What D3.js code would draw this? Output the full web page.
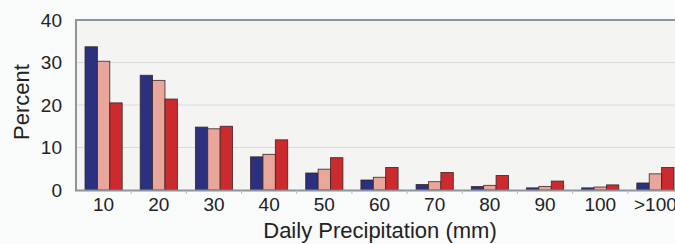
<!DOCTYPE html>
<html>
<head>
  <meta charset="utf-8">
  <style>
    body { margin: 0; background: #f9fafa; }
    svg { display: block; font-family: "Liberation Sans", Arial, sans-serif; }
  </style>
</head>
<body>
  <svg width="675" height="244"></svg>
  <script src="https://d3js.org/d3.v7.min.js"></script>
  <script>
    // data
    var categories = ["10", "20", "30", "40", "50", "60", "70", "80", "90", "100", ">100"];
    var seriesNames = ["a", "b", "c"];
    var seriesA = [33.7, 27.0, 14.8, 7.8, 4.0, 2.35, 1.3, 0.8, 0.5, 0.5, 1.65];
    var seriesB = [30.3, 25.8, 14.4, 8.4, 4.9, 3.0, 1.95, 1.1, 0.85, 0.7, 3.8];
    var seriesC = [20.5, 21.4, 15.0, 11.8, 7.6, 5.3, 4.1, 3.4, 2.1, 1.2, 5.3];
    var yTicks = [0, 10, 20, 30, 40];

    var series = [seriesA, seriesB, seriesC];
    var colors = ["#2b307f", "#e9a69b", "#cb2b2e"];

    var svg = d3.select("svg"),
      mLeft = 76, mRight = 683, mTop = 20, mBottom = 190;

    var x0 = d3.scaleBand().domain(categories).range([mLeft, mRight]).padding(0);
    var x1 = d3.scaleBand().domain(seriesNames).range([9, x0.bandwidth() - 9]).padding(0);
    var y = d3.scaleLinear().domain([0, 40]).range([mBottom, mTop]);

    // plot area
    svg.append("rect")
      .attr("x", mLeft).attr("y", mTop)
      .attr("width", mRight - mLeft).attr("height", mBottom - mTop)
      .attr("fill", "#f4f4f2");

    // gridlines
    svg.append("g")
      .selectAll("line")
      .data(yTicks.slice(1, -1))
      .join("line")
      .attr("x1", mLeft).attr("x2", mRight)
      .attr("y1", y).attr("y2", y)
      .attr("stroke", "#d6dbde")
      .attr("stroke-width", 1);

    // bars
    var groups = svg.append("g")
      .selectAll("g")
      .data(categories)
      .join("g")
      .attr("transform", function (d) { return "translate(" + x0(d) + ",0)"; });

    groups.selectAll("rect")
      .data(function (d, i) { return series.map(function (s, j) { return { key: seriesNames[j], v: s[i], c: colors[j] }; }); })
      .join("rect")
      .attr("x", function (d) { return x1(d.key); })
      .attr("y", function (d) { return y(d.v); })
      .attr("width", x1.bandwidth())
      .attr("height", function (d) { return y(0) - y(d.v); })
      .attr("fill", function (d) { return d.c; })
      .attr("stroke", "#3a2628")
      .attr("stroke-width", 0.8);

    // frame (top and left) and baseline
    svg.append("path")
      .attr("d", "M" + mLeft + "," + mBottom + "V" + mTop + "H" + mRight)
      .attr("fill", "none")
      .attr("stroke", "#8d949a")
      .attr("stroke-width", 2);

    svg.append("line")
      .attr("x1", mLeft - 1).attr("x2", mRight)
      .attr("y1", mBottom + 0.5).attr("y2", mBottom + 0.5)
      .attr("stroke", "#8d949a")
      .attr("stroke-width", 2);

    // x tick marks between groups
    svg.append("g")
      .selectAll("line")
      .data(categories.slice(1))
      .join("line")
      .attr("x1", function (d) { return x0(d); })
      .attr("x2", function (d) { return x0(d); })
      .attr("y1", mBottom).attr("y2", mBottom + 4)
      .attr("stroke", "#b4babe");

    // y tick labels
    svg.append("g")
      .selectAll("text")
      .data(yTicks)
      .join("text")
      .attr("x", 62)
      .attr("y", y)
      .attr("dy", "0.36em")
      .attr("text-anchor", "end")
      .attr("font-size", 19)
      .attr("fill", "#222")
      .text(function (d) { return d; });

    // x tick labels
    svg.append("g")
      .selectAll("text")
      .data(categories)
      .join("text")
      .attr("x", function (d) { return x0(d) + x0.bandwidth() / 2; })
      .attr("y", 211)
      .attr("text-anchor", "middle")
      .attr("font-size", 19)
      .attr("fill", "#222")
      .text(function (d) { return d; });

    // axis titles
    svg.append("text")
      .attr("x", 380)
      .attr("y", 238)
      .attr("text-anchor", "middle")
      .attr("font-size", 22)
      .attr("fill", "#222")
      .text("Daily Precipitation (mm)");

    svg.append("text")
      .attr("transform", "translate(29,102)rotate(-90)")
      .attr("text-anchor", "middle")
      .attr("font-size", 22)
      .attr("fill", "#222")
      .text("Percent");
  </script>
</body>
</html>
